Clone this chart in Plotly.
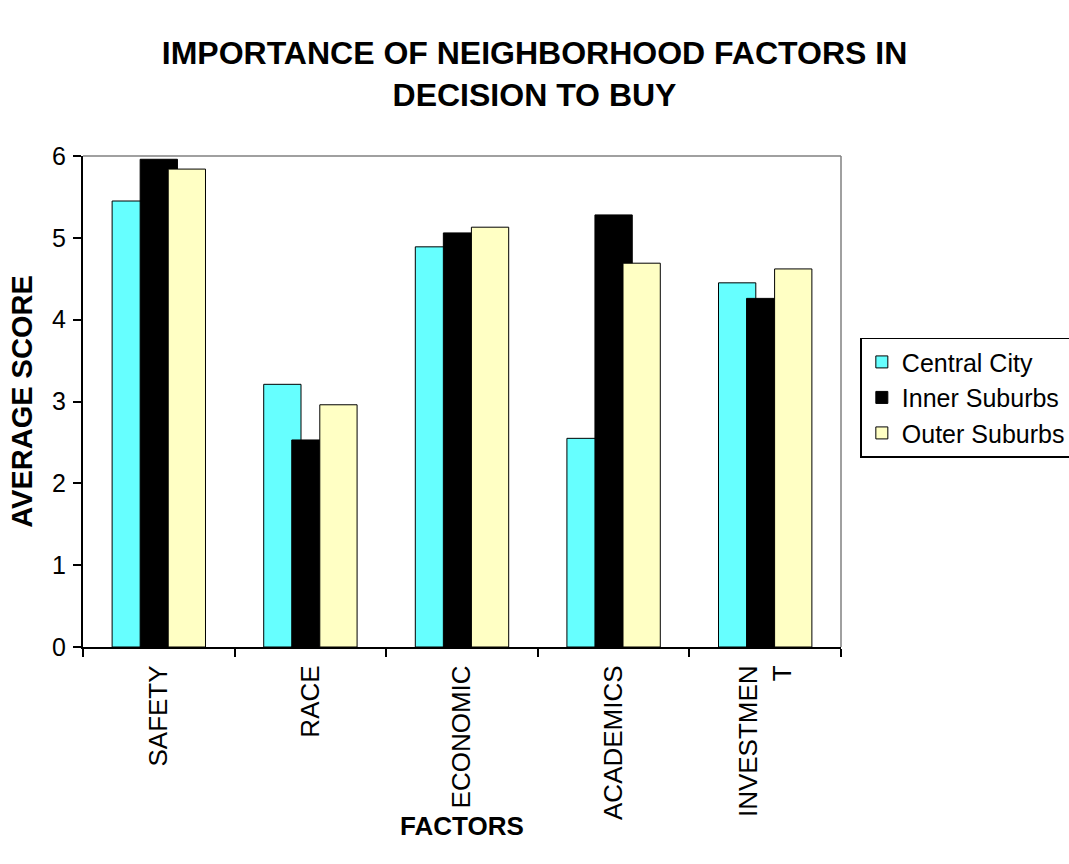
import plotly.graph_objects as go

# Survey: average importance score of each neighborhood factor, by residence area
factors = ["SAFETY", "RACE", "ECONOMIC", "ACADEMICS", "INVESTMEN<br>T"]
central_city = [5.45, 3.21, 4.89, 2.55, 4.45]
inner_suburbs = [5.96, 2.53, 5.06, 5.28, 4.26]
outer_suburbs = [5.84, 2.96, 5.13, 4.69, 4.62]

series = [
    ("Central City", central_city, "#66FFFF"),
    ("Inner Suburbs", inner_suburbs, "#000000"),
    ("Outer Suburbs", outer_suburbs, "#FFFFC4"),
]

FONT = "Liberation Sans, Arial, sans-serif"
bar_w = 0.246
step = 0.185
start = -(2 * step + bar_w) / 2

fig = go.Figure()
for i, (name, vals, color) in enumerate(series):
    fig.add_trace(go.Bar(
        x=factors, y=vals, name=name,
        width=bar_w, offset=start + i * step,
        marker=dict(color=color, line=dict(color="black", width=1)),
    ))

axis_line = dict(showline=True, linecolor="black", linewidth=2,
                 showgrid=False, zeroline=False)

fig.update_layout(
    width=1069, height=864,
    barmode="overlay",
    paper_bgcolor="white", plot_bgcolor="white",
    margin=dict(l=83, r=228, t=156, b=217, autoexpand=False),
    font=dict(family=FONT, color="black", size=26),
    title=dict(
        text="<b>IMPORTANCE OF NEIGHBORHOOD FACTORS IN<br>DECISION TO BUY</b>",
        x=0.5, xanchor="center", xref="container",
        y=0.926, yanchor="top", yref="container",
        font=dict(size=32, family=FONT),
    ),
    xaxis=dict(
        **axis_line, type="category", range=[-0.5, 4.5],
        ticks="outside", ticklen=8, tickwidth=2, tickcolor="black",
        tickson="boundaries", tickangle=-90, ticklabelstandoff=6,
        tickfont=dict(size=26),
    ),
    xaxis2=dict(
        overlaying="x", anchor="y", range=[-0.5, 4.5],
        tickvals=[-0.5, 0.5, 1.5, 2.5, 3.5, 4.5],
        ticks="inside", ticklen=8, tickwidth=2, tickcolor="black",
        showticklabels=False, showline=False, showgrid=False, zeroline=False,
    ),
    yaxis=dict(
        **axis_line, range=[0, 6], dtick=1,
        ticks="outside", ticklen=8, tickwidth=2, tickcolor="black",
        ticklabelstandoff=2, tickfont=dict(size=25),
        title=dict(text="<b>AVERAGE SCORE</b>", font=dict(size=29), standoff=11),
    ),
    yaxis2=dict(
        overlaying="y", anchor="x", range=[0, 6], dtick=1,
        ticks="inside", ticklen=8, tickwidth=2, tickcolor="black",
        showticklabels=False, showline=False, showgrid=False, zeroline=False,
    ),
    legend=dict(
        x=1.0255, xanchor="left", xref="paper",
        y=0.63, yanchor="top", yref="paper",
        bordercolor="black", borderwidth=1.5, bgcolor="white",
        font=dict(size=25), tracegroupgap=0,
    ),
    annotations=[
        dict(text="<b>FACTORS</b>", xref="paper", yref="paper",
             x=0.5, xanchor="center", y=-0.364, yanchor="middle",
             showarrow=False, font=dict(size=26)),
    ],
    shapes=[
        dict(type="line", xref="paper", yref="paper", x0=0, x1=1, y0=1, y1=1,
             line=dict(color="#808080", width=1.5)),
        dict(type="line", xref="paper", yref="paper", x0=1, x1=1, y0=0, y1=1,
             line=dict(color="#808080", width=1.5)),
    ],
)

fig.write_html("out.html")
